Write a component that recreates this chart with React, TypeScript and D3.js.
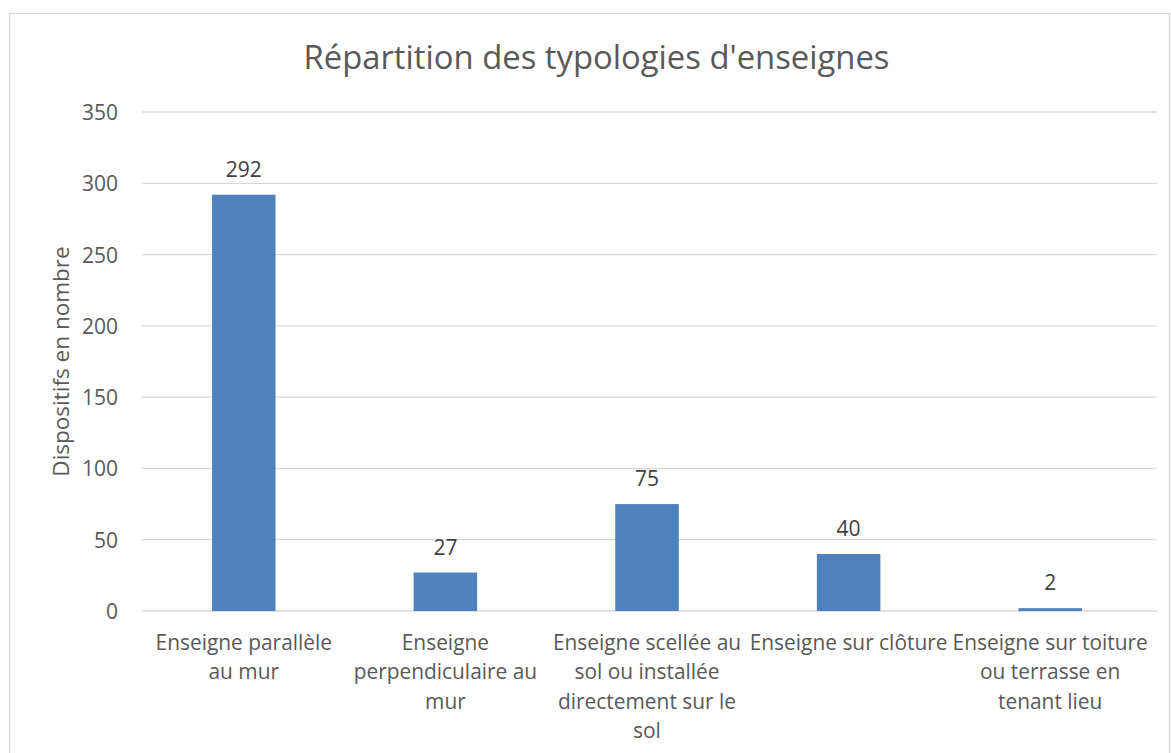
import React from "react";
import * as d3 from "d3";

const WIDTH = 1171;
const HEIGHT = 753;

const TITLE = "Répartition des typologies d'enseignes";
const Y_TITLE = "Dispositifs en nombre";

const categories = [
  "Enseigne parallèle au mur",
  "Enseigne perpendiculaire au mur",
  "Enseigne scellée au sol ou installée directement sur le sol",
  "Enseigne sur clôture",
  "Enseigne sur toiture ou terrasse en tenant lieu",
];
const categoryLines = [
  ["Enseigne parallèle", "au mur"],
  ["Enseigne", "perpendiculaire au", "mur"],
  ["Enseigne scellée au", "sol ou installée", "directement sur le", "sol"],
  ["Enseigne sur clôture"],
  ["Enseigne sur toiture", "ou terrasse en", "tenant lieu"],
];
const values = [292, 27, 75, 40, 2];
const yTicks = [0, 50, 100, 150, 200, 250, 300, 350];

const FONT = "'Open Sans', 'Noto Sans', sans-serif";
const TEXT = "#595959";
const GRID = "#d9d9d9";
const BAR = "#4f81bd";

export default function App() {
  const x = d3
    .scaleBand<string>()
    .domain(categories)
    .range([143, 1151])
    .paddingInner(0.685)
    .paddingOuter(0.3425);

  const y = d3.scaleLinear().domain([0, 350]).range([611, 112]);

  const gridLeft = 142;
  const gridRight = 1157;

  return (
    <svg
      width={WIDTH}
      height={HEIGHT}
      style={{ position: "absolute", left: 0, top: 0, background: "#fff" }}
      fontFamily={FONT}
    >
      <rect x={9.5} y={13.5} width={1160} height={760} fill="#fff" stroke={GRID} strokeWidth={1.3} />

      <text x={596.5} y={69} textAnchor="middle" fontSize={32.8} fill={TEXT}>
        {TITLE}
      </text>

      {yTicks.map((t) => (
        <g key={t}>
          <line x1={gridLeft} x2={gridRight} y1={y(t)} y2={y(t)} stroke={GRID} strokeWidth={1.3} />
          <text x={118} y={y(t)} textAnchor="end" dominantBaseline="central" fontSize={21} fill={TEXT}>
            {t}
          </text>
        </g>
      ))}

      <text
        transform={`translate(60, ${(y(0) + y(350)) / 2}) rotate(-90)`}
        textAnchor="middle"
        dominantBaseline="central"
        fontSize={22.5}
        fill={TEXT}
      >
        {Y_TITLE}
      </text>

      {categories.map((c, i) => {
        const bx = x(c) ?? 0;
        const cx = bx + x.bandwidth() / 2;
        return (
          <g key={c}>
            <rect x={bx} y={y(values[i])} width={x.bandwidth()} height={y(0) - y(values[i])} fill={BAR} />
            <text x={cx} y={y(values[i]) - 18} textAnchor="middle" fontSize={21} fill="#404040">
              {values[i]}
            </text>
            <text textAnchor="middle" fontSize={20.9} fill={TEXT}>
              {categoryLines[i].map((ln, j) => (
                <tspan key={j} x={cx} y={650 + j * 29.3}>
                  {ln}
                </tspan>
              ))}
            </text>
          </g>
        );
      })}
    </svg>
  );
}
